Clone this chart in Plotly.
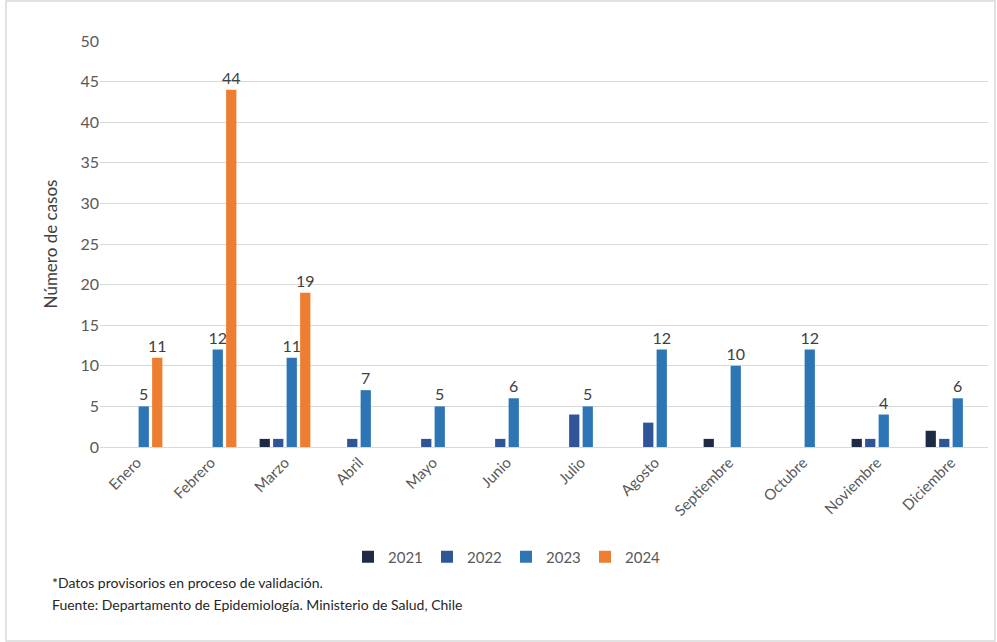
import plotly.graph_objects as go

months = ["Enero", "Febrero", "Marzo", "Abril", "Mayo", "Junio", "Julio",
          "Agosto", "Septiembre", "Octubre", "Noviembre", "Diciembre"]
y2021 = [None, None, 1, None, None, None, None, None, 1, None, 1, 2]
y2022 = [None, None, 1, 1, 1, 1, 4, 3, None, None, 1, 1]
y2023 = [5, 12, 11, 7, 5, 6, 5, 12, 10, 12, 4, 6]
y2024 = [11, 44, 19, None, None, None, None, None, None, None, None, None]
yticks = [0, 5, 10, 15, 20, 25, 30, 35, 40, 45, 50]

W, H = 997, 642
L, R, T, B = 100, 9, 41, 195
pw, ph = W - L - R, H - T - B

def px(x):
    return (x - L) / pw

def py(y):
    return (H - B - y) / ph

FONT = "Lato, Calibri, Noto Sans, sans-serif"
GREY = "#595959"

fig = go.Figure()
series = [("2021", y2021, "#1f2a44", False),
          ("2022", y2022, "#2f5597", False),
          ("2023", y2023, "#2e75b6", True),
          ("2024", y2024, "#ed7d31", True)]
for name, vals, col, lab in series:
    fig.add_trace(go.Bar(
        x=months, y=vals, name=name, marker_color=col,
        marker_line_width=0,
        text=[("" if v is None else str(v)) for v in vals] if lab else None,
        textposition="outside" if lab else None,
        constraintext="none",
        textfont=dict(size=16, color="#404040", family=FONT),
        cliponaxis=False,
    ))

fig.update_layout(
    width=W, height=H,
    margin=dict(l=L, r=R, t=T, b=B),
    paper_bgcolor="white", plot_bgcolor="white",
    barmode="group", bargap=0.27, bargroupgap=0.24,
    font=dict(family=FONT, color=GREY, size=15),
    showlegend=True,
    legend=dict(orientation="h", x=px(506), xanchor="center",
                y=py(557), yanchor="middle",
                font=dict(size=15, color=GREY), itemwidth=30,
                entrywidth=34, entrywidthmode="pixels",
                traceorder="normal"),
    xaxis=dict(type="category", tickangle=-45, showgrid=False,
               showline=True, linecolor="#d9d9d9", linewidth=1,
               ticks="", tickfont=dict(size=15, color=GREY)),
    yaxis=dict(range=[0, 50], tickvals=yticks, showgrid=True,
               gridcolor="#d9d9d9", gridwidth=1, zeroline=False,
               showline=False, ticks="",
               tickfont=dict(size=16, color=GREY),
               title=dict(text="Número de casos", standoff=18,
                          font=dict(size=17, color="#404040"))),
    shapes=[dict(type="rect", xref="paper", yref="paper",
                 x0=px(6), x1=px(995), y0=py(641), y1=py(1),
                 line=dict(color="#d9d9d9", width=1.5), fillcolor="rgba(0,0,0,0)",
                 layer="below")],
    annotations=[
        dict(text="*Datos provisorios en proceso de validación.", xref="paper", yref="paper",
             x=px(50), y=py(582), xanchor="left", yanchor="middle", showarrow=False,
             font=dict(size=14, color="#262626")),
        dict(text="Fuente: Departamento de Epidemiología. Ministerio de Salud, Chile",
             xref="paper", yref="paper",
             x=px(50), y=py(604), xanchor="left", yanchor="middle", showarrow=False,
             font=dict(size=14, color="#262626")),
    ],
)

fig.write_html("out.html", config={"displayModeBar": False},
               post_script="document.body.style.margin='0';document.body.style.overflow='hidden';")
